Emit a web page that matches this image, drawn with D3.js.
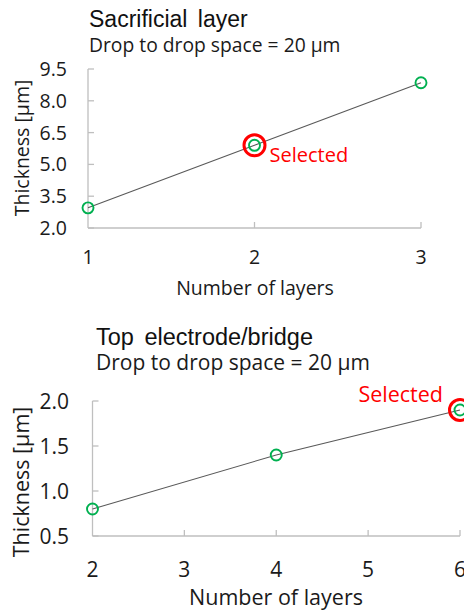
<!DOCTYPE html>
<html>
<head>
<meta charset="utf-8">
<script src="https://cdn.jsdelivr.net/npm/d3@7"></script>
<style>
  body { margin: 0; background: #fff; }
  svg { display: block; }
  .lbl { font-family: "Open Sans", Lato, sans-serif; fill: #1a1a1a; }
  .ttl { font-family: "Liberation Sans", Arial, sans-serif; fill: #111; }
</style>
</head>
<body>
<div id="chart"></div>
<script>
// Sacrificial layer
const sacLayers = [1, 2, 3];
const sacThickness = [2.95, 5.9, 8.85];
const sacYTicks = [2.0, 3.5, 5.0, 6.5, 8.0, 9.5];
const sacXTicks = [1, 2, 3];
const sacSelected = 2;

// Top electrode/bridge
const topLayers = [2, 4, 6];
const topThickness = [0.8, 1.4, 1.9];
const topYTicks = [0.5, 1.0, 1.5, 2.0];
const topXTicks = [2, 3, 4, 5, 6];
const topSelected = 6;

const W = 464, H = 613;
const svg = d3.select("#chart").append("svg").attr("width", W).attr("height", H);

const axisColor = "#bfbfbf";
const green = "#00b050";
const red = "#ff0000";

function drawPanel(p) {
  const x = d3.scaleLinear().domain(p.xDomain).range([p.left, p.right]);
  const y = d3.scaleLinear().domain(p.yDomain).range([p.bottom, p.top]);
  const g = svg.append("g");

  // titles
  g.append("text").attr("class", "ttl")
    .attr("x", p.titleX).attr("y", p.titleY)
    .attr("font-size", p.titleSize).attr("word-spacing", 4)
    .text(p.title);
  g.append("text").attr("class", "lbl")
    .attr("x", p.titleX).attr("y", p.subY)
    .attr("font-size", p.subSize)
    .text(p.subtitle);

  // axes lines
  g.append("line").attr("x1", p.left).attr("x2", p.left)
    .attr("y1", p.top).attr("y2", p.bottom)
    .attr("stroke", axisColor).attr("stroke-width", 1.3);
  g.append("line").attr("x1", p.left).attr("x2", p.right)
    .attr("y1", p.bottom).attr("y2", p.bottom)
    .attr("stroke", axisColor).attr("stroke-width", 1.3);

  g.selectAll(".ytick").data(p.yTicks).join("line")
    .attr("x1", p.left).attr("x2", p.left + 6)
    .attr("y1", d => y(d)).attr("y2", d => y(d))
    .attr("stroke", axisColor).attr("stroke-width", 1.3);
  g.selectAll(".xtick").data(p.xTicks.slice(1)).join("line")
    .attr("x1", d => x(d)).attr("x2", d => x(d))
    .attr("y1", p.bottom).attr("y2", p.bottom - 6)
    .attr("stroke", axisColor).attr("stroke-width", 1.3);

  g.selectAll(".ylab").data(p.yTicks).join("text")
    .attr("class", "lbl")
    .attr("x", p.yLabelX).attr("y", d => y(d))
    .attr("dy", "0.36em")
    .attr("text-anchor", "end")
    .attr("font-size", p.tickSize)
    .text(d3.format(".1f"));
  g.selectAll(".xlab").data(p.xTicks).join("text")
    .attr("class", "lbl")
    .attr("x", d => x(d)).attr("y", p.xLabelY)
    .attr("text-anchor", "middle")
    .attr("font-size", p.tickSize)
    .text(d => d);

  g.append("text").attr("class", "lbl")
    .attr("x", p.xTitleX).attr("y", p.xTitleY)
    .attr("text-anchor", "middle")
    .attr("font-size", p.labelSize)
    .text("Number of layers");
  g.append("text").attr("class", "lbl")
    .attr("transform", `translate(${p.yTitleX},${p.yTitleCY}) rotate(-90)`)
    .attr("text-anchor", "middle")
    .attr("font-size", p.labelSize)
    .text("Thickness [μm]");

  const pts = p.xs.map((v, i) => ({ x: v, y: p.ys[i] }));
  g.append("path").datum(pts)
    .attr("fill", "none").attr("stroke", "#595959").attr("stroke-width", 1.1)
    .attr("d", d3.line().x(d => x(d.x)).y(d => y(d.y)));

  g.selectAll(".pt").data(pts).join("circle")
    .attr("cx", d => x(d.x)).attr("cy", d => y(d.y)).attr("r", 5.5)
    .attr("fill", "none").attr("stroke", green).attr("stroke-width", 1.9);

  const sel = pts.find(d => d.x === p.selected);
  g.append("circle")
    .attr("cx", x(sel.x)).attr("cy", y(sel.y)).attr("r", 10.5)
    .attr("fill", "none").attr("stroke", red).attr("stroke-width", 3);
  g.append("text").attr("class", "lbl")
    .attr("x", x(sel.x) + p.selDx).attr("y", y(sel.y) + p.selDy)
    .attr("text-anchor", p.selAnchor)
    .attr("font-size", p.selSize)
    .style("fill", red)
    .text("Selected");
}

drawPanel({
  title: "Sacrificial layer", subtitle: "Drop to drop space = 20 μm",
  titleX: 89, titleY: 27, titleSize: 23, subY: 52, subSize: 19.3,
  xs: sacLayers, ys: sacThickness, xTicks: sacXTicks, yTicks: sacYTicks,
  xDomain: [1, 3], yDomain: [2, 9.5],
  left: 88, right: 421, top: 69, bottom: 228,
  yLabelX: 67, xLabelY: 264, xTitleX: 255, xTitleY: 295, yTitleX: 29, yTitleCY: 148,
  tickSize: 19.5, labelSize: 19.5, selSize: 20,
  selected: sacSelected, selDx: 15, selDy: 17, selAnchor: "start"
});

drawPanel({
  title: "Top electrode/bridge", subtitle: "Drop to drop space = 20 μm",
  titleX: 96, titleY: 345, titleSize: 23.5, subY: 370, subSize: 21,
  xs: topLayers, ys: topThickness, xTicks: topXTicks, yTicks: topYTicks,
  xDomain: [2, 6], yDomain: [0.5, 2.0],
  left: 92.5, right: 460, top: 401, bottom: 536,
  yLabelX: 69, xLabelY: 577, xTitleX: 276, xTitleY: 605, yTitleX: 29, yTitleCY: 482,
  tickSize: 21, labelSize: 21.5, selSize: 21.5,
  selected: topSelected, selDx: -17, selDy: -8, selAnchor: "end"
});
</script>
</body>
</html>
